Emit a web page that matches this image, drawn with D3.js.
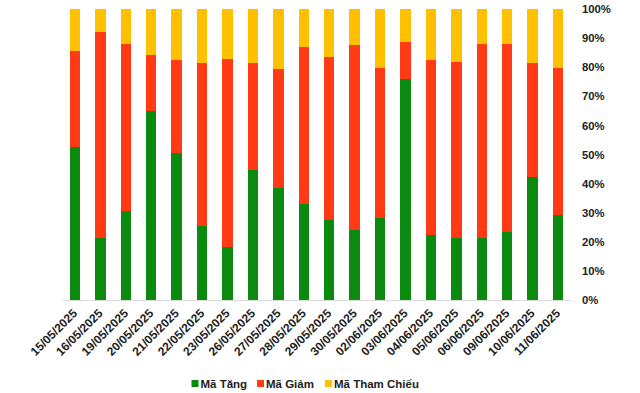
<!DOCTYPE html>
<html><head><meta charset="utf-8">
<script src="https://cdn.jsdelivr.net/npm/d3@7"></script>
<style>body{margin:0;background:#fff}svg{display:block}</style>
</head><body>
<svg id="c" width="640" height="393"></svg>
<script>
const dates = ["15/05/2025","16/05/2025","19/05/2025","20/05/2025","21/05/2025","22/05/2025","23/05/2025","26/05/2025","27/05/2025","28/05/2025","29/05/2025","30/05/2025","02/06/2025","03/06/2025","04/06/2025","05/06/2025","06/06/2025","09/06/2025","10/06/2025","11/06/2025"];
const maTang = [52.7,21.4,30.7,64.9,50.5,25.5,18.2,44.8,38.6,33.1,27.6,24.2,28.3,75.9,22.3,21.4,21.4,23.5,42.3,29.2];
const maGiam = [33.0,70.7,57.4,19.3,32.0,55.9,64.6,36.6,40.8,53.8,55.9,63.4,51.4,12.8,60.2,60.4,66.6,64.5,39.1,50.5];
const maThamChieu = [14.3,7.9,11.9,15.8,17.5,18.6,17.2,18.6,20.6,13.1,16.5,12.4,20.3,11.3,17.5,18.2,12.0,12.0,18.6,20.3];
const seriesNames = ["Mã Tăng","Mã Giảm","Mã Tham Chiếu"];
const yTicks = [0,10,20,30,40,50,60,70,80,90,100];
const colors = ["#0B8A10","#FF3A14","#FFC000"];

const svg = d3.select("#c");
const m = {l:62.3, r:570.7, t:9, b:300};
const rows = dates.map((d,i)=>({date:d, t:maTang[i], g:maGiam[i], c:maThamChieu[i]}));
rows.forEach(r=>{const s=r.t+r.g+r.c; r.t=r.t/s*100; r.g=r.g/s*100; r.c=r.c/s*100;});
const stack = d3.stack().keys(["t","g","c"])(rows);
const x = d3.scaleBand().domain(dates).range([m.l,m.r]).paddingInner(0.59).paddingOuter(0.295);
const y = d3.scaleLinear().domain([0,100]).range([m.b,m.t]);

stack.forEach((s,si)=>{
  svg.append("g").selectAll("rect").data(s).join("rect")
    .attr("x",d=>x(d.data.date)).attr("width",x.bandwidth())
    .attr("y",d=>y(d[1])).attr("height",d=>y(d[0])-y(d[1]))
    .attr("fill",colors[si]).attr("shape-rendering","crispEdges");
});

// x axis line
svg.append("line").attr("x1",m.l).attr("x2",m.r).attr("y1",y(0)+0.5).attr("y2",y(0)+0.5)
  .attr("stroke","#d9d9d9").attr("stroke-width",1);

// y axis labels (right)
const yAxis = d3.axisRight(y).tickValues(yTicks).tickFormat(d=>d+"%").tickSize(0).tickPadding(0);
const ya = svg.append("g").attr("transform",`translate(582,0)`).call(yAxis);
ya.select(".domain").remove();
ya.selectAll("text").attr("font-family","Liberation Sans, Arial, sans-serif").attr("font-size","11.3px")
  .attr("font-weight","bold").attr("fill","#222").attr("text-anchor","start");

// x axis labels
const xAxis = d3.axisBottom(x).tickSize(0).tickPadding(0);
const xa = svg.append("g").attr("transform",`translate(0,${m.b})`).call(xAxis);
xa.select(".domain").remove();
xa.selectAll("text").attr("font-family","Liberation Sans, Arial, sans-serif").attr("font-size","12px")
  .attr("font-weight","bold").attr("fill","#222").attr("text-anchor","end")
  .attr("dy",null).attr("y",null)
  .attr("transform","translate(3,14) rotate(-45)");

// legend
const legX = [191.5, 257, 325];
const lg = svg.append("g");
seriesNames.forEach((n,i)=>{
  lg.append("rect").attr("x",legX[i]).attr("y",380).attr("width",7).attr("height",7).attr("fill",colors[i]);
  lg.append("text").attr("x",legX[i]+9).attr("y",388).text(n)
    .attr("font-family","Liberation Sans, Arial, sans-serif").attr("font-size","11.5px")
    .attr("font-weight","bold").attr("fill","#222");
});
</script>
</body></html>
